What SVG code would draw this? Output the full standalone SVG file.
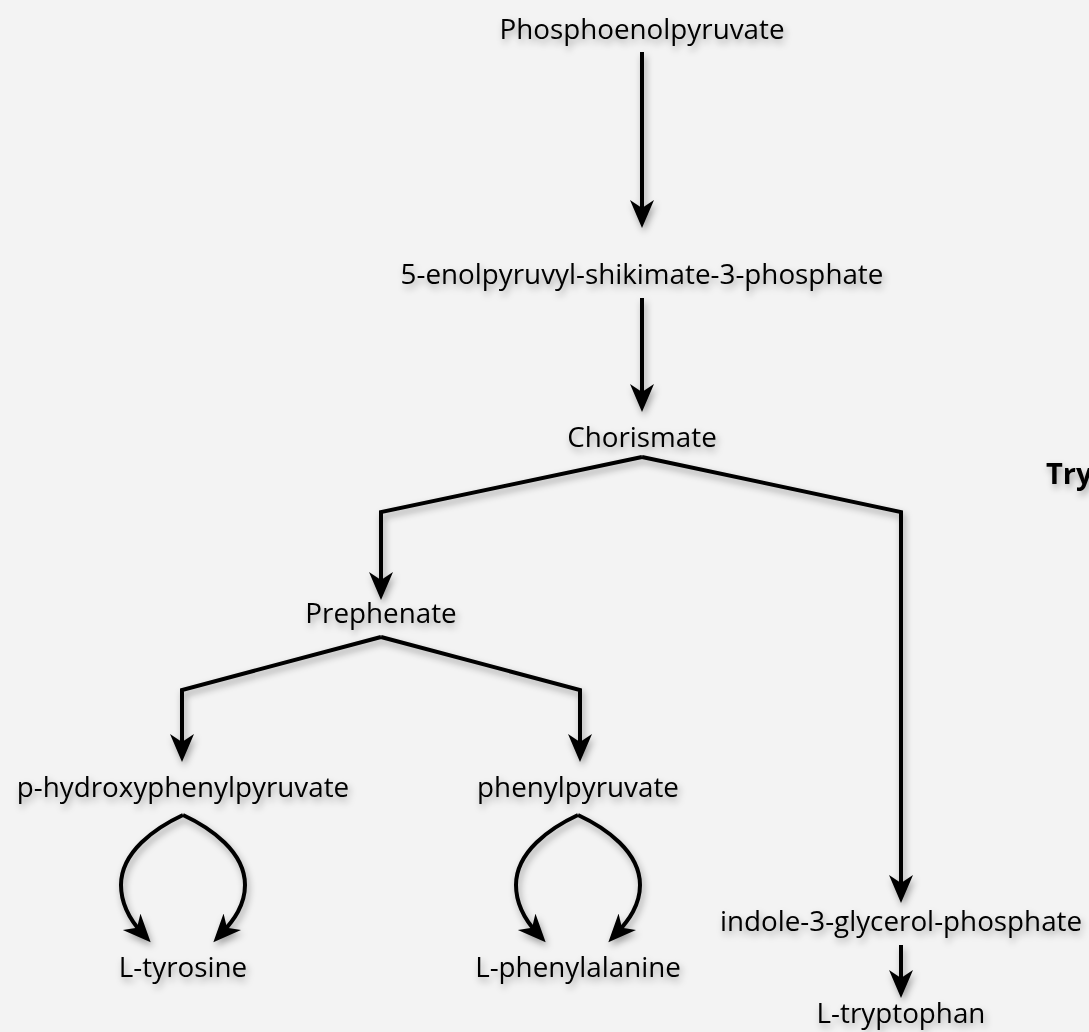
<svg xmlns="http://www.w3.org/2000/svg" width="1089" height="1032" viewBox="0 0 1089 1032">
<defs>
<filter id="sh" x="-20%" y="-20%" width="140%" height="160%">
<feDropShadow dx="2" dy="4" stdDeviation="3.5" flood-color="#000" flood-opacity="0.35"/>
</filter>
<marker id="ah" markerUnits="userSpaceOnUse" markerWidth="30" markerHeight="26" refX="16" refY="12" orient="auto">
<path d="M28,12 L0,0 L8,12 L0,24 Z" fill="#000"/>
</marker>
<style>
.t{font-family:"Open Sans","Noto Sans",sans-serif;font-size:27.8px;fill:#000;text-anchor:middle}
.b{font-family:"Open Sans","Noto Sans",sans-serif;font-size:29px;font-weight:bold;fill:#000}
.c{fill:none;stroke:#000;stroke-width:4;stroke-linejoin:miter;marker-end:url(#ah)}
</style>
</defs>
<rect width="1089" height="1032" fill="#f3f3f3"/>
<g filter="url(#sh)">
<g id="connectors">
<path class="c" d="M642,52 V216"/>
<path class="c" d="M642,298 V400"/>
<path class="c" d="M642,457 L381,512 V588"/>
<path class="c" d="M642,457 L901,512 V891"/>
<path class="c" d="M381,637 L182,690 V750"/>
<path class="c" d="M381,637 L580,690 V750"/>
<path class="c" d="M183,815 C155,828 121,852 121,885 C121,905 130,920 142.5,933.5"/>
<path class="c" d="M183,815 C211,828 245,852 245,885 C245,905 234,920 221.5,933.5"/>
<path class="c" d="M578,815 C550,828 516,852 516,885 C516,905 525,920 537.5,933.5"/>
<path class="c" d="M578,815 C606,828 640,852 640,885 C640,905 629,920 616.5,933.5"/>
<path class="c" d="M901,945 V986"/>
</g>
<g id="pep"><text class="t" x="642" y="39">Phosphoenolpyruvate</text></g>
<g id="esp"><text class="t" x="642" y="284">5-enolpyruvyl-shikimate-3-phosphate</text></g>
<g id="chorismate"><text class="t" x="642" y="447">Chorismate</text></g>
<g id="prephenate"><text class="t" x="381" y="623">Prephenate</text></g>
<g id="hpp"><text class="t" x="183" y="797">p-hydroxyphenylpyruvate</text></g>
<g id="pp"><text class="t" x="578" y="797">phenylpyruvate</text></g>
<g id="tyr"><text class="t" x="183" y="977">L-tyrosine</text></g>
<g id="phe"><text class="t" x="578" y="977">L-phenylalanine</text></g>
<g id="igp"><text class="t" x="901" y="931">indole-3-glycerol-phosphate</text></g>
<g id="trp"><text class="t" x="901" y="1023">L-tryptophan</text></g>
<g id="title"><text class="b" x="1046" y="484">Try</text></g>
</g>
</svg>
